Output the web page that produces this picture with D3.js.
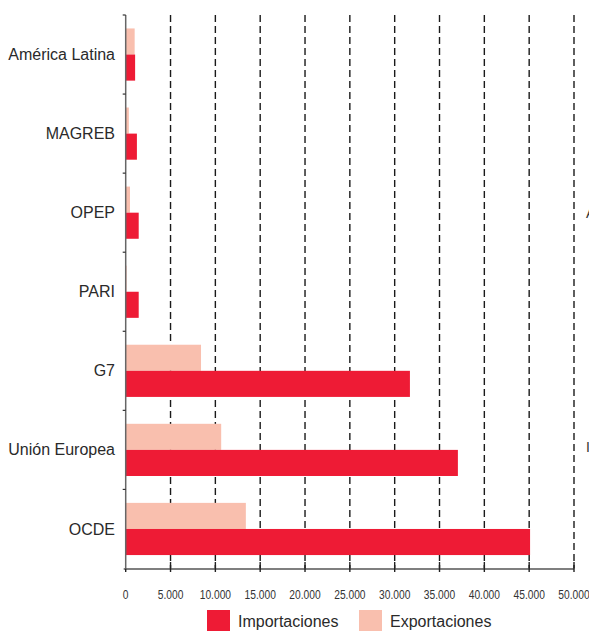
<!DOCTYPE html>
<html>
<head>
<meta charset="utf-8">
<script src="https://cdn.jsdelivr.net/npm/d3@7"></script>
<style>
  body { margin: 0; background: #fff; }
  svg { display: block; font-family: "Liberation Sans", Arial, sans-serif; }
</style>
</head>
<body>
<div id="chart"></div>
<script>
// categories, top to bottom
var categories = ['América Latina', 'MAGREB', 'OPEP', 'PARI', 'G7', 'Unión Europea', 'OCDE'];
var importaciones = [1050, 1250, 1450, 1450, 31700, 37050, 45100];
var exportaciones = [1000, 350, 480, 100, 8400, 10650, 13400];
var seriesNames = ['Importaciones', 'Exportaciones'];
var seriesColors = ['#ee1b35', '#f9bfae'];
var xTicks = [0, 5000, 10000, 15000, 20000, 25000, 30000, 35000, 40000, 45000, 50000];

var W = 589, H = 631;
var svg = d3.select('#chart').append('svg').attr('width', W).attr('height', H);

var xScale = d3.scaleLinear().domain([0, 50000]).range([125.7, 574]);
var yScale = d3.scaleBand().domain(categories).range([15, 568.5]).paddingInner(0.34).paddingOuter(0.17);
var subScale = d3.scaleBand().domain(['exp', 'imp']).range([0, yScale.bandwidth()]);

var fmt = function(d) { return d === 0 ? '0' : d3.format(',')(d).replace(/,/g, '.') };

// dashed grid
svg.append('g').selectAll('line').data(xTicks.slice(1)).enter().append('line')
  .attr('x1', d => xScale(d)).attr('x2', d => xScale(d))
  .attr('y1', 15).attr('y2', 568.5)
  .attr('stroke', '#1a1a1a').attr('stroke-width', 1.4)
  .attr('stroke-dasharray', '7,4');

// bars
var groups = svg.append('g').selectAll('g').data(categories).enter().append('g')
  .attr('transform', d => 'translate(0,' + yScale(d) + ')');

groups.append('rect')
  .attr('x', xScale(0))
  .attr('y', subScale('exp'))
  .attr('width', (d, i) => xScale(exportaciones[i]) - xScale(0))
  .attr('height', subScale.bandwidth())
  .attr('fill', seriesColors[1]);

groups.append('rect')
  .attr('x', xScale(0))
  .attr('y', subScale('imp'))
  .attr('width', (d, i) => xScale(importaciones[i]) - xScale(0))
  .attr('height', subScale.bandwidth())
  .attr('fill', seriesColors[0]);

// y axis: line plus small ticks at band boundaries
var step = yScale.step();
var yBounds = d3.range(categories.length + 1).map(i => 15 + i * step);
svg.append('line')
  .attr('x1', xScale(0)).attr('x2', xScale(0))
  .attr('y1', 15).attr('y2', 569)
  .attr('stroke', '#666').attr('stroke-width', 1.5);
svg.append('g').selectAll('line').data(yBounds.slice(0, -1)).enter().append('line')
  .attr('x1', xScale(0) - 3).attr('x2', xScale(0))
  .attr('y1', d => d).attr('y2', d => d)
  .attr('stroke', '#333').attr('stroke-width', 1.2);

svg.append('g').selectAll('text').data(categories).enter().append('text')
  .attr('x', 115)
  .attr('y', d => yScale(d) + yScale.bandwidth() / 2)
  .attr('dy', '0.35em')
  .attr('text-anchor', 'end')
  .attr('font-size', '16px')
  .attr('fill', '#2a2a2a')
  .text(d => d);

// x axis
var xAxis = svg.append('g').attr('transform', 'translate(0,569)');
xAxis.append('line')
  .attr('x1', xScale(0) - 2).attr('x2', xScale(50000))
  .attr('stroke', '#555').attr('stroke-width', 1.5);
xAxis.selectAll('line.tk').data(xTicks).enter().append('line').attr('class', 'tk')
  .attr('x1', d => xScale(d)).attr('x2', d => xScale(d))
  .attr('y1', d => d === 0 ? 0 : -7).attr('y2', 3)
  .attr('stroke', '#222').attr('stroke-width', 1.4);
// condensed tick labels
xAxis.selectAll('text').data(xTicks).enter().append('text')
  .attr('transform', d => 'translate(' + xScale(d) + ',29.5) scale(0.76,1)')
  .attr('text-anchor', 'middle')
  .attr('font-size', '13.5px')
  .attr('fill', '#333')
  .text(fmt);

// legend
var legend = svg.append('g').attr('transform', 'translate(207,610)');
var legX = [0, 152];
seriesNames.forEach(function(name, i) {
  legend.append('rect').attr('x', legX[i]).attr('y', 0).attr('width', 23).attr('height', 21)
    .attr('fill', seriesColors[i]);
  legend.append('text').attr('x', legX[i] + 31).attr('y', 11).attr('dy', '0.35em')
    .attr('font-size', '16px').attr('fill', '#2a2a2a').text(name);
});

// fragments of labels cut off at the right edge
svg.append('text').attr('x', 586).attr('y', 218).attr('font-size', '14px').attr('fill', '#333').text('A');
svg.append('text').attr('x', 586).attr('y', 452).attr('font-size', '14px').attr('fill', '#333').text('I');
</script>
</body>
</html>
